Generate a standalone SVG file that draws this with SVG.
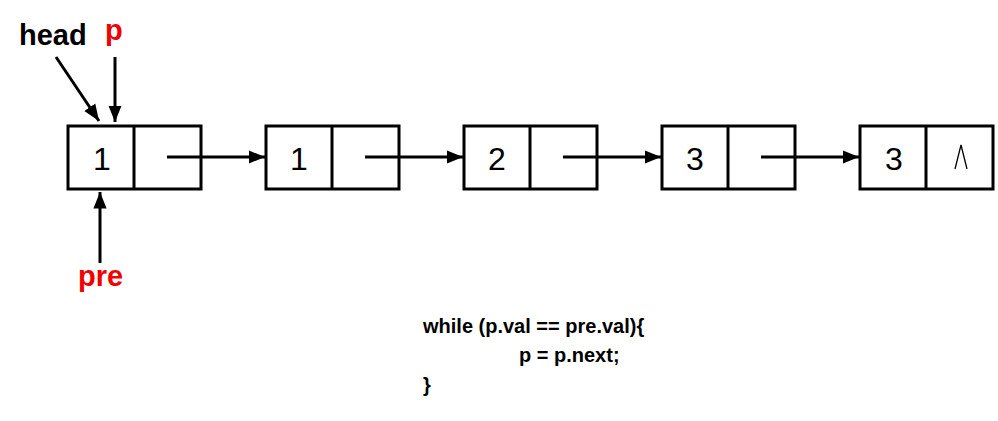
<svg xmlns="http://www.w3.org/2000/svg" width="998" height="421" viewBox="0 0 998 421">
<defs>
<marker id="ah" viewBox="0 0 10 10" refX="10" refY="5" markerWidth="5.5" markerHeight="5.5" markerUnits="strokeWidth" orient="auto">
<path d="M0,1 L10,5 L0,9 z" fill="#000"/>
</marker>
<style>
.box{fill:#fff;stroke:#000;stroke-width:3}
.num{font-family:"Liberation Sans",Arial,sans-serif;font-size:32px;text-anchor:middle;fill:#000}
.lbl{font-family:"Liberation Sans",Arial,sans-serif;font-size:29px;font-weight:bold}
.code{font-family:"Liberation Sans",Arial,sans-serif;font-size:20px;font-weight:bold;fill:#000}
.c{stroke:#000;stroke-width:3;fill:none;marker-end:url(#ah)}
</style>
</defs>
<rect width="998" height="421" fill="#fff"/>
<g id="n1"><rect class="box" x="68" y="126" width="133" height="63"/><line x1="134" y1="126" x2="134" y2="189" stroke="#000" stroke-width="3"/><text class="num" x="102" y="170">1</text></g>
<g id="n2"><rect class="box" x="266" y="126" width="133" height="63"/><line x1="332" y1="126" x2="332" y2="189" stroke="#000" stroke-width="3"/><text class="num" x="299" y="170">1</text></g>
<g id="n3"><rect class="box" x="464" y="126" width="133" height="63"/><line x1="530" y1="126" x2="530" y2="189" stroke="#000" stroke-width="3"/><text class="num" x="497" y="170">2</text></g>
<g id="n4"><rect class="box" x="662" y="126" width="133" height="63"/><line x1="728" y1="126" x2="728" y2="189" stroke="#000" stroke-width="3"/><text class="num" x="695" y="170">3</text></g>
<g id="n5"><rect class="box" x="860" y="126" width="133" height="63"/><line x1="926" y1="126" x2="926" y2="189" stroke="#000" stroke-width="3"/><text class="num" x="894" y="170">3</text><path d="M955,169 L961,145 L967,169" fill="none" stroke="#000" stroke-width="1.3"/></g>
<g id="labels">
<text class="lbl" x="19" y="45" fill="#000">head</text>
<text class="lbl" x="105" y="40" fill="#f00000">p</text>
<text class="lbl" x="78" y="286" fill="#f00000">pre</text>
</g>
<g id="connectors">
<line class="c" x1="56" y1="57" x2="99" y2="121"/>
<line class="c" x1="115" y1="57" x2="115" y2="122"/>
<line class="c" x1="100" y1="263" x2="100" y2="192"/>
<line class="c" x1="167" y1="157" x2="265" y2="157"/>
<line class="c" x1="365" y1="157" x2="463" y2="157"/>
<line class="c" x1="563" y1="157" x2="661" y2="157"/>
<line class="c" x1="761" y1="157" x2="859" y2="157"/>
</g>
<g id="code">
<text class="code" x="423" y="333">while (p.val == pre.val){</text>
<text class="code" x="519" y="362">p = p.next;</text>
<text class="code" x="423" y="392">}</text>
</g>
</svg>
